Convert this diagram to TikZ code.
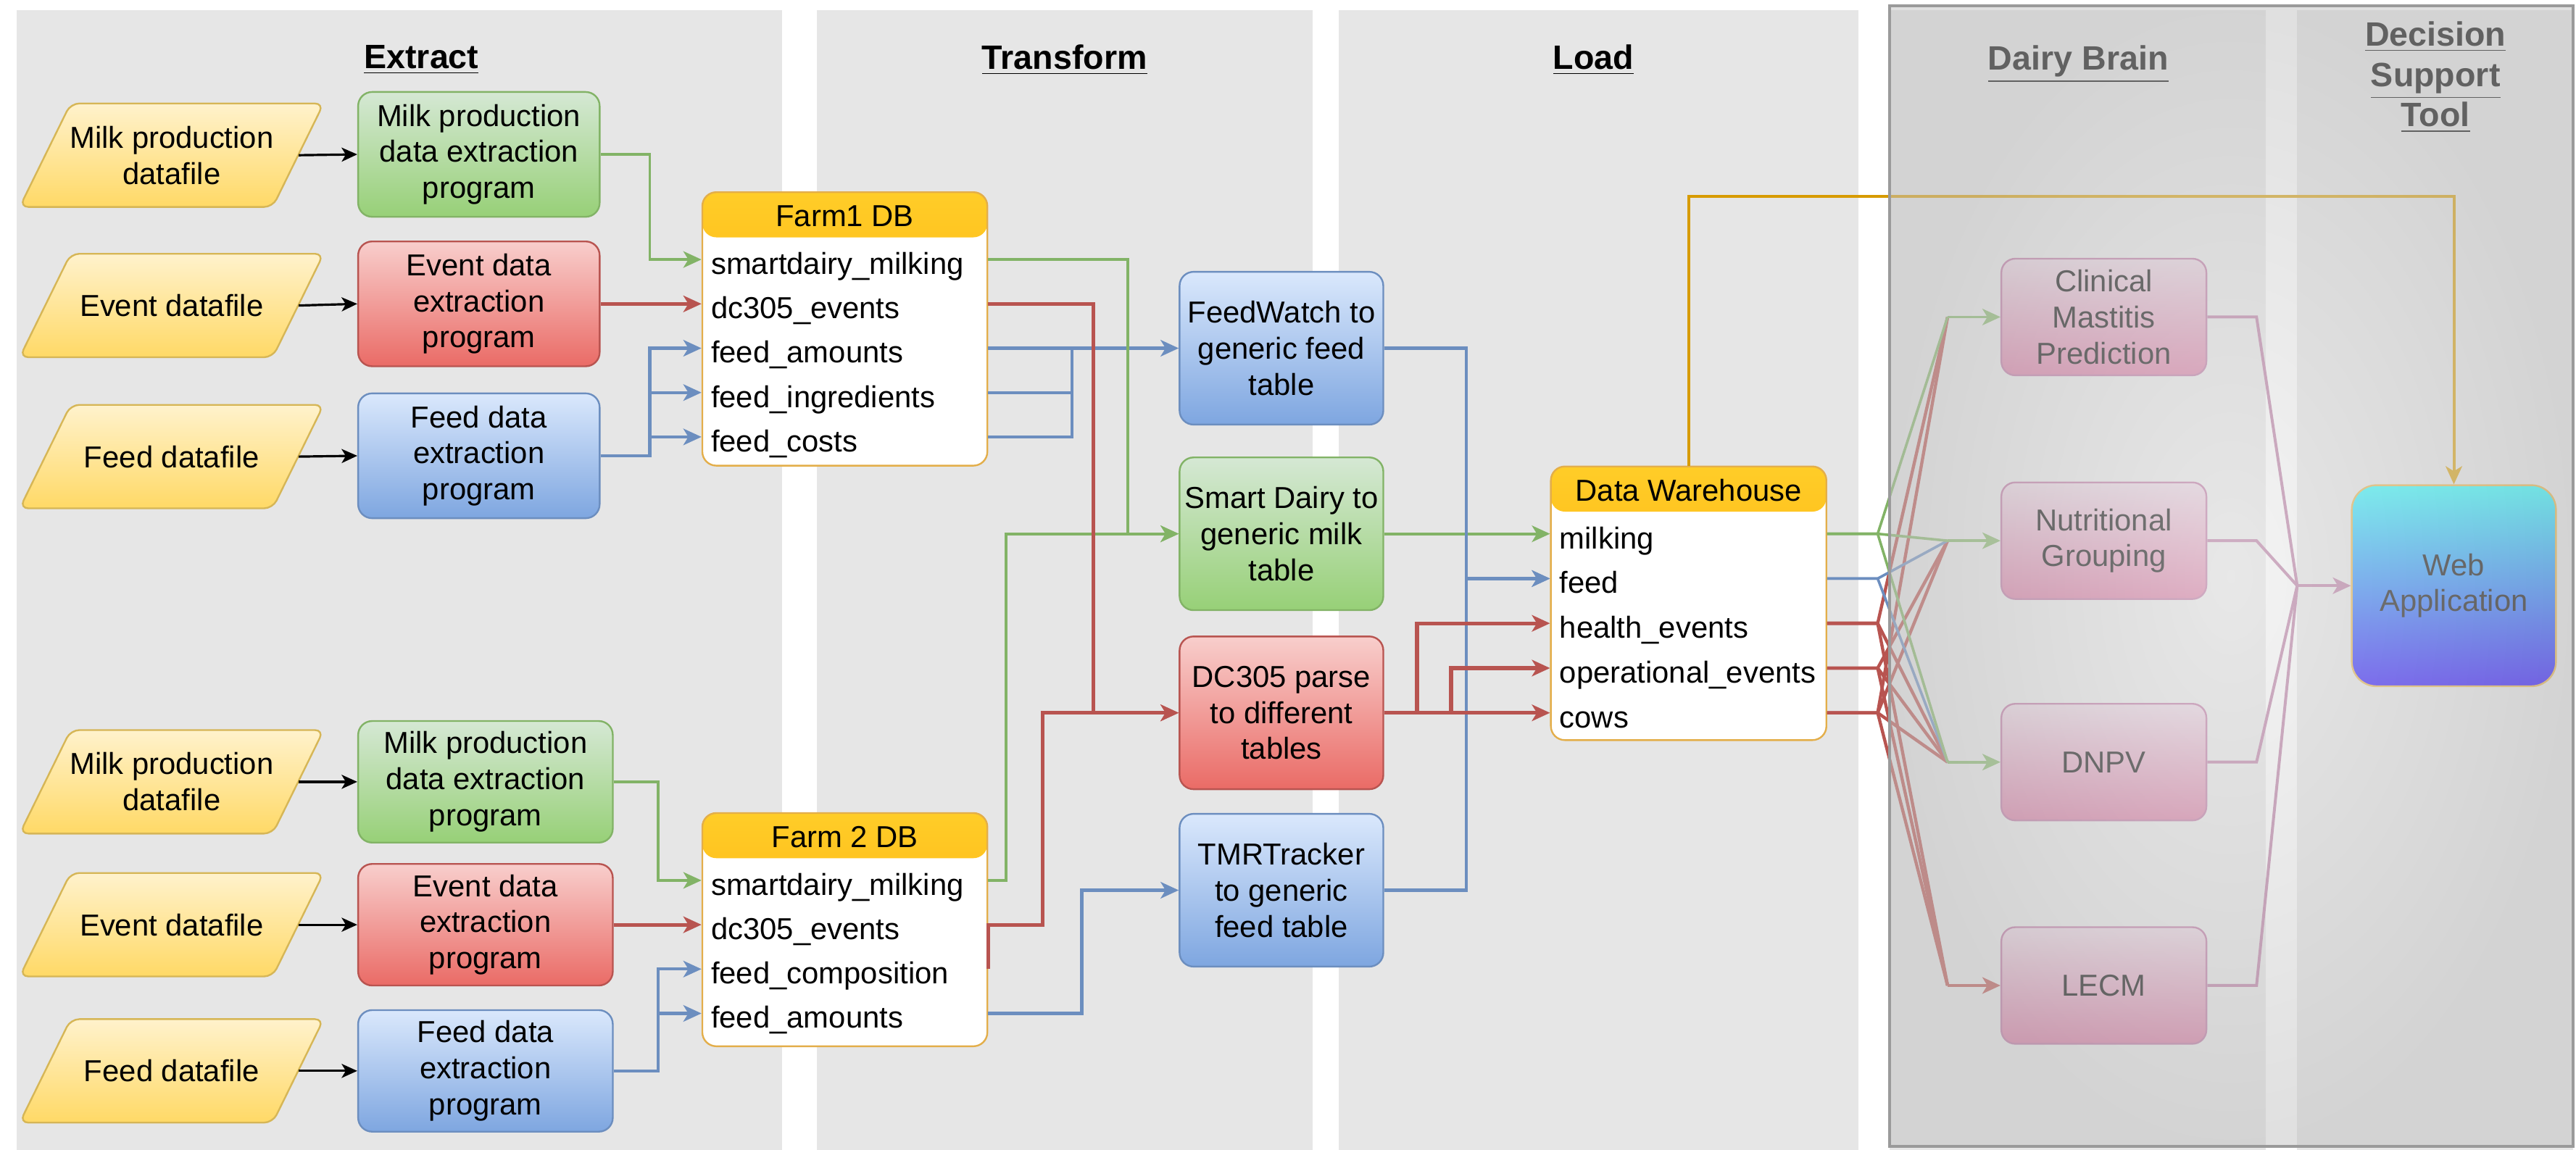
\documentclass[tikz,border=0pt]{standalone}
\usepackage{fontspec}
\setmainfont{Liberation Sans}
\usetikzlibrary{arrows.meta,calc}

\definecolor{panelg}{HTML}{E6E6E6}
\definecolor{grn1}{HTML}{D5E8D4}
\definecolor{grn2}{HTML}{97D077}
\definecolor{grnd}{HTML}{82B366}
\definecolor{red1}{HTML}{F8CECC}
\definecolor{red2}{HTML}{EA6B66}
\definecolor{redd}{HTML}{B85450}
\definecolor{blu1}{HTML}{DAE8FC}
\definecolor{blu2}{HTML}{7EA6E0}
\definecolor{blud}{HTML}{6C8EBF}
\definecolor{ylw1}{HTML}{FFF2CC}
\definecolor{ylw2}{HTML}{FFD966}
\definecolor{ylwd}{HTML}{D6B656}
\definecolor{org1}{HTML}{FFCD28}
\definecolor{org2}{HTML}{FFA000}
\definecolor{orgd}{HTML}{D79B00}
\definecolor{tblb}{HTML}{E3AE4A}
\definecolor{pnk1}{HTML}{E6D0DE}
\definecolor{pnk2}{HTML}{D5739D}
\definecolor{pnkd}{HTML}{B86E9C}
\definecolor{pnkl}{HTML}{B5739D}
\definecolor{web1}{HTML}{20FFFF}
\definecolor{web2}{HTML}{2000FF}
\definecolor{webd}{HTML}{E8B040}
\definecolor{veil1}{HTML}{EAEAEA}
\definecolor{veil2}{HTML}{C2C2C2}
\definecolor{veild}{HTML}{9A9A9A}

% data file parallelogram: name, x, y, text
\newcommand\dfile[4]{%
  \shadedraw[dshape] (#2-61.5,#3-31.5) -- (#2+92.5,#3-31.5) -- (#2+61.5,#3+31.5) -- (#2-92.5,#3+31.5) -- cycle;
  \node[txt, sz={154}{63}] (#1) at (#2,#3) {#4};}

\begin{document}
\begin{tikzpicture}[x=0.02cm, y=-0.02cm,
  txt/.style={font=\fontsize{10.5}{12.5}\selectfont, align=center, inner sep=0pt},
  hdr/.style={font=\fontsize{11.7}{14}\selectfont\bfseries, align=center, inner sep=0pt},
  sz/.style 2 args={minimum width=#1*0.02cm, minimum height=#2*0.02cm},
  dshape/.style={top color=ylw1, bottom color=ylw2, draw=ylwd, line width=0.6pt, rounded corners=3pt},
  box/.style={txt, draw, rounded corners=1.7mm, line width=0.6pt},
  gbox/.style={box, top color=grn1, bottom color=grn2, draw=grnd},
  rbox/.style={box, top color=red1, bottom color=red2, draw=redd},
  bbox/.style={box, top color=blu1, bottom color=blu2, draw=blud},
  pbox/.style={box, top color=pnk1, bottom color=pnk2, draw=pnkd},
  wbox/.style={box, rounded corners=3mm, top color=web1, bottom color=web2, draw=webd},
  tbl/.style={draw=tblb, fill=white, rounded corners=1.7mm, line width=0.6pt, inner sep=0pt,
    path picture={\shade[top color=org1, bottom color=org2]
      (path picture bounding box.north west) rectangle ([yshift=-0.55cm]path picture bounding box.north east);}},
  rowt/.style={font=\fontsize{10.5}{12.5}\selectfont, anchor=west, inner xsep=0.1cm, inner ysep=0pt,
    text height=0.38cm, text depth=0.02cm},
  arr/.style={-{Stealth[length=2.2mm,width=2mm,inset=0.6mm]}},
  karr/.style={-{Stealth[length=1.9mm,width=1.7mm,inset=0.5mm]}},
  kl/.style={black, line width=0.8pt, karr},
  gl/.style={grnd, line width=1pt},
  rl/.style={redd, line width=1.3pt},
  bl/.style={blud, line width=1.1pt},
  ol/.style={orgd, line width=1pt},
  gfan/.style={grnd, line width=0.9pt},
  rfan/.style={redd, line width=1.1pt},
  bfan/.style={blud, line width=0.9pt},
  pl/.style={pnkl, line width=1pt}]

\fill[white] (0,0) rectangle (1568,700);
\useasboundingbox (0,0) rectangle (1568,700);

% column panels
\fill[panelg] (10,6) rectangle (476,700);
\fill[panelg] (497,6) rectangle (799,700);
\fill[panelg] (815,6) rectangle (1131,700);
\fill[panelg] (1150,6) rectangle (1379,700);
\fill[panelg] (1398,6) rectangle (1566,700);

% column titles
\node[hdr] (hE) at (256.5,36.5) {\underline{Extract}};
\node[hdr] (hT) at (648,36.5) {\underline{Transform}};
\node[hdr] (hL) at (970,36.5) {\underline{Load}};
\node[hdr] (hB) at (1265,39) {\underline{Dairy Brain}};
\node[hdr] (hD) at (1482.5,47) {\underline{Decision}\\\underline{Support}\\\underline{Tool}};

% source data files
\dfile{d1}{104.5}{94.5}{Milk production\\datafile}
\dfile{d2}{104.5}{186}{Event datafile}
\dfile{d3}{104.5}{278}{Feed datafile}
\dfile{d4}{104.5}{476}{Milk production\\datafile}
\dfile{d5}{104.5}{563}{Event datafile}
\dfile{d6}{104.5}{652}{Feed datafile}

% extraction programs
\node[gbox, sz={147}{76}] (p1) at (291.5,94) {Milk production\\data extraction\\program};
\node[rbox, sz={147}{76}] (p2) at (291.5,185) {Event data\\extraction\\program};
\node[bbox, sz={147}{76}] (p3) at (291.5,277.5) {Feed data\\extraction\\program};
\node[gbox, sz={155}{74}] (p4) at (295.5,476) {Milk production\\data extraction\\program};
\node[rbox, sz={155}{74}] (p5) at (295.5,563) {Event data\\extraction\\program};
\node[bbox, sz={155}{74}] (p6) at (295.5,652) {Feed data\\extraction\\program};

% farm databases
\node[tbl, sz={173.5}{166.5}] (f1) at (514.25,200.25) {};
\node[txt] (f1h) at (514.25,131.5) {Farm1 DB};
\node[rowt] (f1r1) at (427.5,158) {smartdairy\_milking};
\node[rowt] (f1r2) at (427.5,185) {dc305\_events};
\node[rowt] (f1r3) at (427.5,212) {feed\_amounts};
\node[rowt] (f1r4) at (427.5,239) {feed\_ingredients};
\node[rowt] (f1r5) at (427.5,266) {feed\_costs};

\node[tbl, sz={173.5}{142}] (f2) at (514.25,566) {};
\node[txt] (f2h) at (514.25,509.5) {Farm 2 DB};
\node[rowt] (f2r1) at (427.5,536) {smartdairy\_milking};
\node[rowt] (f2r2) at (427.5,563) {dc305\_events};
\node[rowt] (f2r3) at (427.5,590) {feed\_composition};
\node[rowt] (f2r4) at (427.5,617) {feed\_amounts};

% transformation steps
\node[bbox, sz={124}{93}] (fw) at (780,212) {FeedWatch to\\generic feed\\table};
\node[gbox, sz={124}{93}] (sd) at (780,325) {Smart Dairy to\\generic milk\\table};
\node[rbox, sz={124}{93}] (dc) at (780,434) {DC305 parse\\to different\\tables};
\node[bbox, sz={124}{93}] (tmr) at (780,542) {TMRTracker\\to generic\\feed table};

% data warehouse
\node[tbl, sz={167.7}{166.6}] (dw) at (1027.85,367.3) {};
\node[txt] (dwh) at (1027.85,298.5) {Data Warehouse};
\node[rowt] (dwr1) at (944,325) {milking};
\node[rowt] (dwr2) at (944,352.25) {feed};
\node[rowt] (dwr3) at (944,379.5) {health\_events};
\node[rowt] (dwr4) at (944,406.75) {operational\_events};
\node[rowt] (dwr5) at (944,434) {cows};

% models and web application
\node[pbox, sz={124.8}{71}] (cm) at (1280.6,193) {Clinical\\Mastitis\\Prediction};
\node[pbox, sz={124.8}{71}] (ng) at (1280.6,329.2) {Nutritional\\Grouping};
\node[pbox, sz={124.8}{71}] (dn) at (1280.6,464) {DNPV};
\node[pbox, sz={124.8}{71}] (le) at (1280.6,600) {LECM};
\node[wbox, sz={124.3}{122.4}] (wa) at (1493.65,356.6) {Web\\Application};

% files into extraction programs
\foreach \i in {1,...,6} \draw[kl] (d\i.east) -- (p\i.west);

% extraction programs into farm databases
\draw[gl, arr] (p1.east) -- ++(30,0) |- (f1r1 -| f1.west);
\draw[rl, arr] (p2.east) -- (f1r2 -| f1.west);
\draw[bl, arr] (p3.east) -- ++(30,0) |- (f1r3 -| f1.west);
\draw[bl, arr] (p3.east) -- ++(30,0) |- (f1r4 -| f1.west);
\draw[bl, arr] (p3.east) -- ++(30,0) |- (f1r5 -| f1.west);
\draw[gl, arr] (p4.east) -- ++(27,0) |- (f2r1 -| f2.west);
\draw[rl, arr] (p5.east) -- (f2r2 -| f2.west);
\draw[bl, arr] (p6.east) -- ++(27,0) |- (f2r3 -| f2.west);
\draw[bl, arr] (p6.east) -- ++(27,0) |- (f2r4 -| f2.west);

% farm databases into transformation steps
\coordinate (fj) at ($(f1r3 -| f1.east)+(51,0)$);
\draw[bl] (f1r4 -| f1.east) -| (fj);
\draw[bl] (f1r5 -| f1.east) -| (fj);
\draw[bl, arr] (f1r3 -| f1.east) -- (fw.west);
\draw[gl, arr] (f1r1 -| f1.east) -- ++(85,0) |- (sd.west);
\draw[gl, arr] (f2r1 -| f2.east) -- ++(11,0) |- (sd.west);
\draw[rl, arr] (f1r2 -| f1.east) -- ++(64,0) |- (dc.west);
\draw[rl, arr] (f2r3 -| f2.east) -- (f2r2 -| f2.east) -- ++(33,0) |- (dc.west);
\draw[bl, arr] (f2r4 -| f2.east) -- ++(57,0) |- (tmr.west);

% transformation steps into the warehouse
\draw[gl, arr] (sd.east) -- (dwr1 -| dw.west);
\draw[bl, arr] (fw.east) -- ++(50,0) |- (dwr2 -| dw.west);
\draw[bl, arr] (tmr.east) -- ++(50,0) |- (dwr2 -| dw.west);
\draw[rl, arr] (dc.east) -- ++(20,0) |- (dwr3 -| dw.west);
\draw[rl, arr] (dc.east) -- ++(40.7,0) |- (dwr4 -| dw.west);
\draw[rl, arr] (dc.east) -- (dwr5 -| dw.west);

% warehouse straight to the web application
\draw[ol, arr] (dw.north) -- ++(0,-164) -| (wa.north);

% warehouse tables fanning out to the models
\foreach \t in {cm,ng,dn,le} \coordinate (\t-j) at ($(\t.west)+(-32.2,0)$);
\foreach \r/\t in {3/cm,5/cm,4/ng,5/ng,3/dn,4/dn,5/dn,3/le,4/le,5/le}
  \draw[rfan] (dwr\r -| dw.east) -- ++(30.7,0) -- (\t-j);
\foreach \t in {ng,dn}
  \draw[bfan] (dwr2 -| dw.east) -- ++(30.7,0) -- (\t-j);
\foreach \t in {cm,ng,dn}
  \draw[gfan] (dwr1 -| dw.east) -- ++(30.7,0) -- (\t-j);
\draw[gfan, arr] (cm-j) -- (cm.west);
\draw[gfan, arr] (ng-j) -- (ng.west);
\draw[gfan, arr] (dn-j) -- (dn.west);
\draw[rfan, arr] (le-j) -- (le.west);

% models into the web application
\coordinate (pj) at ($(wa.west)+(-32.7,0)$);
\foreach \t in {cm,ng,dn,le} \draw[pl] (\t.east) -- ++(30,0) -- (pj);
\draw[pl, arr] (pj) -- (wa.west);

% translucent veil over the later stages
\shade[inner color=veil1, outer color=veil2, fill opacity=0.5] (1150,3.5) rectangle (1566,698);
\draw[veild, line width=1pt] (1150,3.5) rectangle (1566,698);
\end{tikzpicture}
\end{document}
